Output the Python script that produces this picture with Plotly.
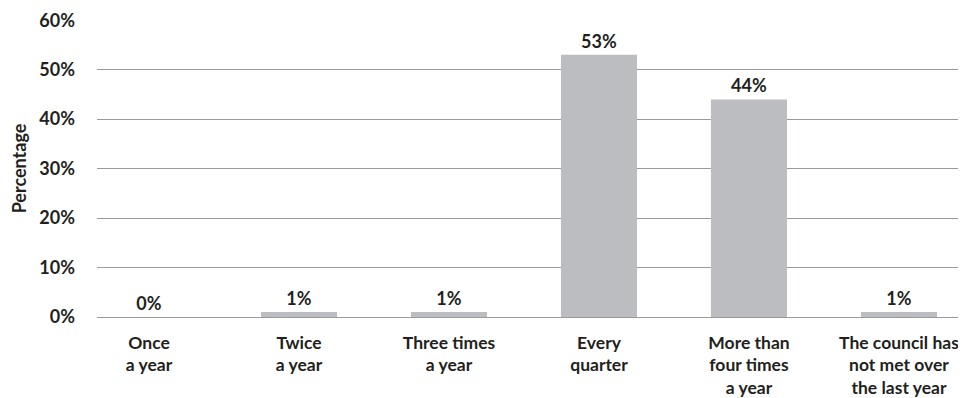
import plotly.graph_objects as go

categories = ["Once<br>a year", "Twice<br>a year", "Three times<br>a year", "Every<br>quarter",
              "More than<br>four times<br>a year", "The council has<br>not met over<br>the last year"]
values = [0, 1, 1, 53, 44, 1]
labels = ["0%", "1%", "1%", "53%", "44%", "1%"]
y_ticks = [0, 10, 20, 30, 40, 50, 60]
y_tick_text = [f"<b>{v}%</b>" for v in y_ticks]

FONT = "Lato"
SIZE = 18
TXT = "#231f20"

# the page body has an 8px margin, so the figure is offset by 8px
fig = go.Figure(go.Bar(
    x=list(range(len(categories))),
    y=values,
    width=0.507,
    marker=dict(color="#bcbdc0", line=dict(width=0)),
    text=[f"<b>{t}</b>" for t in labels],
    textposition="outside",
    cliponaxis=False,
    textfont=dict(family=FONT, size=SIZE, color=TXT),
))

fig.update_layout(
    width=958, height=390,
    margin=dict(l=89, r=0, t=12, b=81),
    paper_bgcolor="white", plot_bgcolor="white",
    showlegend=False,
    font=dict(family=FONT, size=SIZE, color=TXT),
    xaxis=dict(
        tickmode="array",
        tickvals=list(range(len(categories))),
        ticktext=[f"<b>{c}</b>" for c in categories],
        range=[-0.347, 5.447],
        showgrid=False, zeroline=False, showline=False,
        ticks="", tickfont=dict(family=FONT, size=17.5, color=TXT),
        ticklabelstandoff=13,
        automargin=False,
    ),
    yaxis=dict(
        range=[0, 60.05],
        tickmode="array", tickvals=y_ticks, ticktext=y_tick_text,
        showgrid=True, gridcolor="#9a9a9a", gridwidth=1,
        zeroline=True, zerolinecolor="#9a9a9a", zerolinewidth=1,
        showline=False, ticks="",
        tickfont=dict(family=FONT, size=SIZE, color=TXT),
        ticklabelstandoff=21,
        automargin=False,
        title=dict(text="<b>Percentage</b>", font=dict(family=FONT, size=SIZE, color=TXT), standoff=9),
    ),
)

fig.write_html("out.html")
